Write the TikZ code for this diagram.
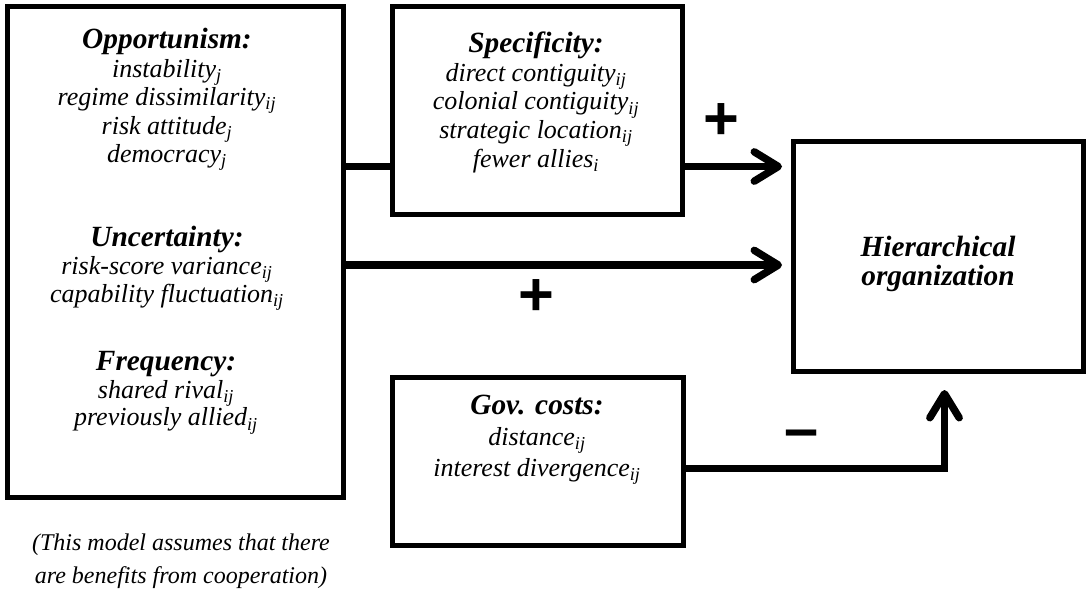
\documentclass[tikz,border=0pt]{standalone}
\usepackage{fontspec}
\setmainfont{Liberation Serif}
\newfontfamily\signfont{Liberation Sans}
\usetikzlibrary{arrows.meta}

\newcommand{\head}[1]{{\fontsize{22}{21.4}\selectfont\bfseries #1}}
\newcommand{\tightlines}{\lineskiplimit=-5pt\relax}

\begin{document}
\begin{tikzpicture}[x=0.75pt,y=-0.75pt]
  \tikzset{box/.style = {draw,line width=3.75pt,inner sep=0pt}}
  \tikzset{list/.style = {align=center,inner sep=0pt,anchor=north,font=\fontsize{19.5}{21.4}\selectfont\itshape\tightlines}}
  \tikzset{sign/.style = {inner sep=0pt,font=\fontsize{46}{46}\selectfont\signfont\bfseries}}
  \tikzset{link/.style = {line width=5.6pt}}
  \tikzset{flow/.style = {link,-{Straight Barb[length=18pt,width=22pt,line cap=round,line join=round]}}}

  \useasboundingbox (0,0) rectangle (1087,590);

  % boxes
  \node[box,minimum width=252pt,minimum height=368.25pt] (drivers) at (175.5,252) {};
  \node[box,minimum width=217.5pt,minimum height=156pt] (spec) at (537.5,110.5) {};
  \node[box,minimum width=218.25pt,minimum height=126pt] (gov) at (538,461.5) {};
  \node[box,minimum width=217.5pt,minimum height=172.5pt] (hier) at (938.5,256.5) {};

  % what goes in them
  \node[list] (opp) at (167,28) {\head{Opportunism:}\\ instability\textsubscript{j}\\ regime dissimilarity\textsubscript{ij}\\ risk attitude\textsubscript{j}\\ democracy\textsubscript{j}};
  \node[list,font=\fontsize{19.5}{20.8}\selectfont\itshape\tightlines] (unc) at (167,226) {\head{Uncertainty:}\\ risk-score variance\textsubscript{ij}\\ capability fluctuation\textsubscript{ij}};
  \node[list,font=\fontsize{19.5}{20.8}\selectfont\itshape\tightlines] (freq) at (166,351) {\head{Frequency:}\\ shared rival\textsubscript{ij}\\ previously allied\textsubscript{ij}};
  \node[list] (spectext) at (536,32) {\head{Specificity:}\\ direct contiguity\textsubscript{ij}\\ colonial contiguity\textsubscript{ij}\\ strategic location\textsubscript{ij}\\ fewer allies\textsubscript{i}};
  \node[list,font=\fontsize{19.5}{23}\selectfont\itshape\tightlines] (govtext) at (537,395) {\head{Gov. costs:}\\ distance\textsubscript{ij}\\ interest divergence\textsubscript{ij}};
  \node[list] (hiertext) at (938,236) {\head{Hierarchical}\\ \head{organization}};
  \node[list,font=\fontsize{18}{24.75}\selectfont\itshape] (note) at (181,534) {(This model assumes that there\\ are benefits from cooperation)};

  % signs
  \node[sign] (plusA) at (721,122) {+};
  \node[sign] (plusB) at (536,298) {+};
  \node[sign] (minus) at (802,440) {–};

  % connectors
  \coordinate (upper) at (0,166.5);
  \coordinate (middle) at (0,265);
  \coordinate (lower) at (0,468.5);
  \coordinate (rise) at (944.5,0);

  \draw[link] (drivers.east |- upper) -- (spec.west |- upper);
  \draw[flow,shorten >=6.75pt] (spec.east |- upper) -- (hier.west |- upper);
  \draw[flow,shorten >=6.75pt] (drivers.east |- middle) -- (hier.west |- middle);
  \draw[flow,shorten >=12pt] (gov.east |- lower) -| (rise |- hier.south);
\end{tikzpicture}
\end{document}
